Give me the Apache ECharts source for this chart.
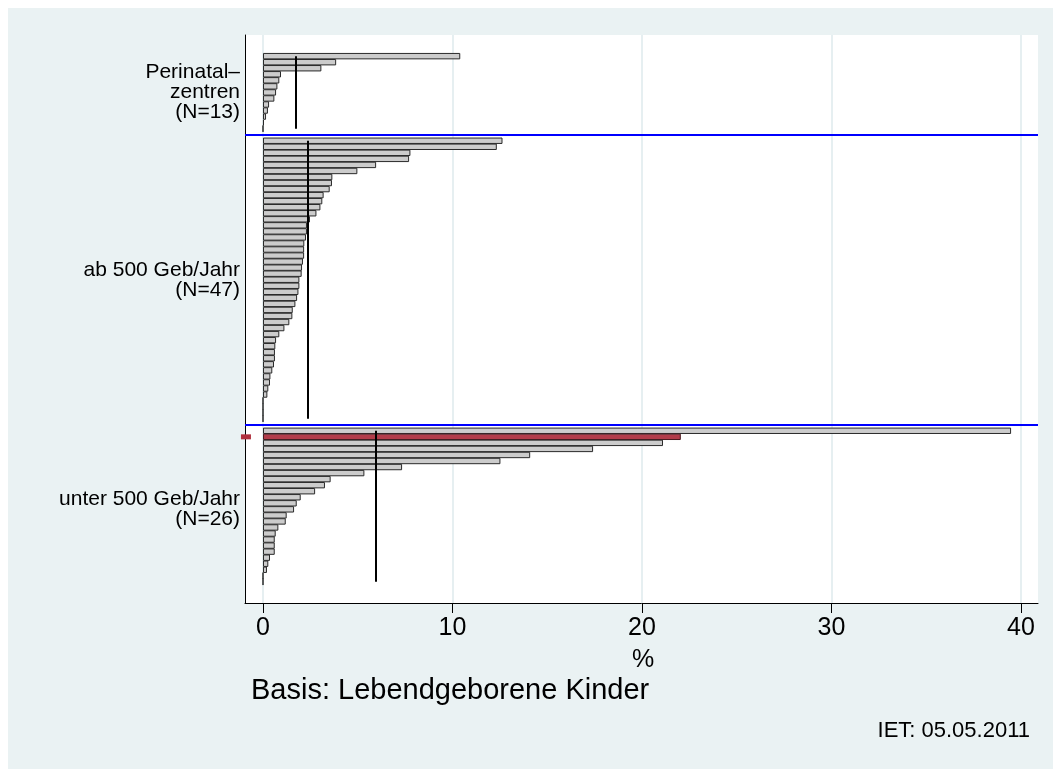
<!DOCTYPE html>
<html>
<head>
<meta charset="utf-8">
<script src="https://cdn.jsdelivr.net/npm/echarts@6/dist/echarts.min.js"></script>
<style>
  html, body { margin: 0; padding: 0; background: #ffffff; }
  #wrap { position: relative; width: 1053px; height: 769px; background: #ffffff; }
  #panel { position: absolute; left: 8px; top: 8px; width: 1045px; height: 761px; background: #eaf2f3; }
  #chart { position: absolute; left: 0; top: 0; width: 1053px; height: 769px; }
</style>
</head>
<body>
<div id="wrap"><div id="panel"></div><div id="chart"></div></div>
<script>
// ---- data ----
const groupLabels = ['Perinatal–\nzentren\n(N=13)', 'ab 500 Geb/Jahr\n(N=47)', 'unter 500 Geb/Jahr\n(N=26)'];
const topValues = [10.41, 3.86, 3.08, 0.95, 0.86, 0.76, 0.69, 0.60, 0.32, 0.26, 0.16, 0.05, 0];
const midValues = [12.64, 12.34, 7.78, 7.71, 5.97, 4.98, 3.66, 3.64, 3.52, 3.20, 3.13, 3.03, 2.82, 2.48, 2.32,
                   2.32, 2.27, 2.18, 2.17, 2.17, 2.11, 2.06, 2.04, 1.92, 1.92, 1.87, 1.80, 1.71, 1.57, 1.55,
                   1.39, 1.13, 0.86, 0.69, 0.65, 0.63, 0.63, 0.58, 0.49, 0.39, 0.37, 0.28, 0.23, 0, 0, 0, 0];
const lowValues = [39.48, 22.05, 21.11, 17.42, 14.10, 12.53, 7.34, 5.35, 3.57, 3.27, 2.75, 1.99, 1.78,
                   1.64, 1.25, 1.20, 0.81, 0.67, 0.62, 0.62, 0.62, 0.37, 0.28, 0.21, 0, 0];
const groupMeans = [1.74, 2.38, 5.95];
const highlight = { group: 2, index: 1 };   // red bar
const xTicks = [0, 10, 20, 30, 40];
const xTitle = '%';
const footNote = 'Basis: Lebendgeborene Kinder';
const dateNote = 'IET: 05.05.2011';

// ---- build category slots ----
const groups = [topValues, midValues, lowValues];
const cats = [], barData = [], labelAt = {}, sepCats = [], ranges = [];
let highlightCat = null;
function pad(n) { for (let i = 0; i < n; i++) { cats.push('pad' + cats.length); barData.push(null); } }
pad(3);
groups.forEach((vals, gi) => {
  if (gi > 0) { const c = 'sep' + gi; sepCats.push(c); cats.push(c); barData.push(null); }
  const start = cats.length;
  vals.forEach((v, i) => {
    const c = 'g' + gi + '_' + i;
    cats.push(c);
    if (gi === highlight.group && i === highlight.index) {
      highlightCat = c;
      barData.push({ value: v, itemStyle: { color: '#b23c4a', borderColor: '#4a1a20' } });
    } else {
      barData.push(v);
    }
  });
  ranges.push([cats[start], cats[cats.length - 1]]);
  labelAt[cats[start + Math.floor(vals.length / 2)]] = groupLabels[gi];
});
pad(3);

const FONT = '"Liberation Sans", Arial, Helvetica, sans-serif';
const chart = echarts.init(document.getElementById('chart'), null, { renderer: 'canvas' });

const markLines = [];
ranges.forEach((r, gi) => {
  markLines.push([
    { coord: [groupMeans[gi], r[0]], lineStyle: { color: '#000', width: 2, type: 'solid' } },
    { coord: [groupMeans[gi], r[1]] }
  ]);
});
sepCats.forEach(c => {
  markLines.push({ yAxis: c, lineStyle: { color: '#0000ff', width: 2, type: 'solid' } });
});

chart.setOption({
  animation: false,
  backgroundColor: 'transparent',
  textStyle: { fontFamily: FONT },
  grid: { left: 245, right: 15, top: 35, bottom: 166, show: true, backgroundColor: '#ffffff', borderWidth: 0 },
  xAxis: {
    type: 'value', min: -0.95, max: 40.9,
    axisLine: { show: true, onZero: false, lineStyle: { color: '#000', width: 1 } },
    axisTick: { show: true, customValues: xTicks, length: 10, lineStyle: { color: '#000', width: 1 } },
    axisLabel: { customValues: xTicks, fontSize: 25, color: '#000', margin: 13, fontFamily: FONT },
    splitLine: { show: true, lineStyle: { color: '#e6eff1', width: 2 } }
  },
  yAxis: {
    type: 'category', data: cats, inverse: true,
    axisLine: { show: true, onZero: false, lineStyle: { color: '#000', width: 1 } },
    axisTick: { show: false },
    splitLine: { show: false },
    axisLabel: {
      interval: 0, margin: 5, fontSize: 21, lineHeight: 20, color: '#000', align: 'right', fontFamily: FONT,
      formatter: v => labelAt[v] || ''
    }
  },
  series: [
    {
      type: 'bar', data: barData, barWidth: 6.4,
      itemStyle: { color: '#cccccc', borderColor: '#2a2a2a', borderWidth: 1 },
      markLine: { silent: true, symbol: ['none', 'none'], label: { show: false }, data: markLines, animation: false }
    },
    {
      type: 'scatter', data: [[-0.9, highlightCat]], symbol: 'rect', symbolSize: [10, 5],
      itemStyle: { color: '#b0303e', opacity: 1 }, clip: false, z: 10, silent: true
    }
  ],
  graphic: [
    { type: 'text', left: 632, top: 648, style: { text: xTitle, fill: '#000', font: '25px ' + FONT } },
    { type: 'text', left: 251, top: 676, style: { text: footNote, fill: '#000', font: '29px ' + FONT } },
    { type: 'text', right: 23, top: 720, style: { text: dateNote, fill: '#000', font: '22px ' + FONT } }
  ]
});
</script>
</body>
</html>
